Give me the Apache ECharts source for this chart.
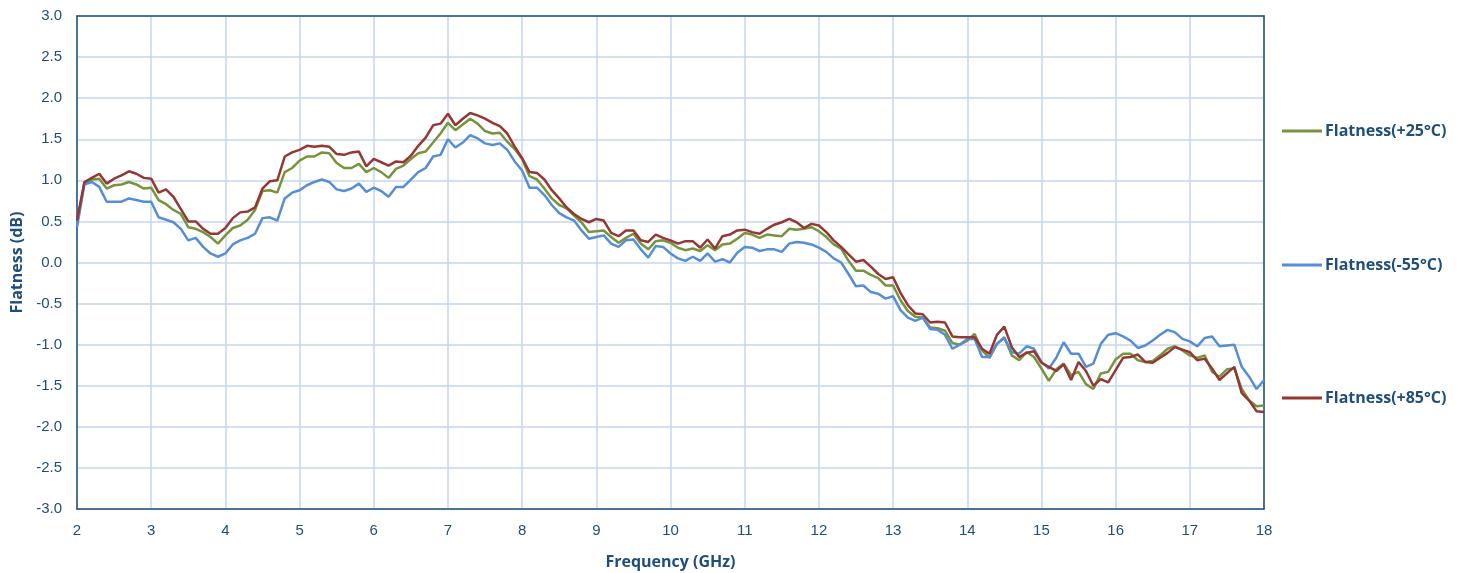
<!DOCTYPE html>
<html>
<head>
<meta charset="utf-8">
<script src="https://cdn.jsdelivr.net/npm/echarts@6/dist/echarts.min.js"></script>
<style>html,body{margin:0;padding:0;background:#fff;}#c{width:1469px;height:573px;}</style>
</head>
<body>
<div id="c"></div>
<script>
const freq = [2.0,2.1,2.2,2.3,2.4,2.5,2.6,2.7,2.8,2.9,3.0,3.1,3.2,3.3,3.4,3.5,3.6,3.7,3.8,3.9,4.0,4.1,4.2,4.3,4.4,4.5,4.6,4.7,4.8,4.9,5.0,5.1,5.2,5.3,5.4,5.5,5.6,5.7,5.8,5.9,6.0,6.1,6.2,6.3,6.4,6.5,6.6,6.7,6.8,6.9,7.0,7.1,7.2,7.3,7.4,7.5,7.6,7.7,7.8,7.9,8.0,8.1,8.2,8.3,8.4,8.5,8.6,8.7,8.8,8.9,9.0,9.1,9.2,9.3,9.4,9.5,9.6,9.7,9.8,9.9,10.0,10.1,10.2,10.3,10.4,10.5,10.6,10.7,10.8,10.9,11.0,11.1,11.2,11.3,11.4,11.5,11.6,11.7,11.8,11.9,12.0,12.1,12.2,12.3,12.4,12.5,12.6,12.7,12.8,12.9,13.0,13.1,13.2,13.3,13.4,13.5,13.6,13.7,13.8,13.9,14.0,14.1,14.2,14.3,14.4,14.5,14.6,14.7,14.8,14.9,15.0,15.1,15.2,15.3,15.4,15.5,15.6,15.7,15.8,15.9,16.0,16.1,16.2,16.3,16.4,16.5,16.6,16.7,16.8,16.9,17.0,17.1,17.2,17.3,17.4,17.5,17.6,17.7,17.8,17.9,18.0];

const flat25 = [0.48,0.97,1.01,1.02,0.90,0.94,0.95,0.98,0.95,0.90,0.91,0.76,0.71,0.64,0.59,0.43,0.41,0.37,0.31,0.23,0.33,0.42,0.45,0.52,0.64,0.87,0.88,0.85,1.10,1.15,1.24,1.29,1.29,1.34,1.33,1.21,1.15,1.15,1.20,1.10,1.15,1.10,1.03,1.14,1.18,1.26,1.33,1.35,1.46,1.57,1.70,1.61,1.68,1.75,1.69,1.60,1.57,1.58,1.47,1.38,1.26,1.05,1.01,0.90,0.78,0.70,0.66,0.57,0.49,0.37,0.38,0.39,0.31,0.24,0.30,0.35,0.23,0.16,0.26,0.27,0.24,0.18,0.15,0.17,0.14,0.21,0.15,0.22,0.23,0.29,0.36,0.34,0.30,0.34,0.33,0.32,0.41,0.40,0.41,0.43,0.38,0.31,0.22,0.17,0.02,-0.10,-0.10,-0.15,-0.19,-0.28,-0.28,-0.46,-0.59,-0.66,-0.67,-0.79,-0.80,-0.83,-0.98,-1.00,-0.95,-0.87,-1.07,-1.16,-0.99,-0.91,-1.13,-1.19,-1.09,-1.15,-1.29,-1.44,-1.30,-1.23,-1.37,-1.33,-1.48,-1.54,-1.35,-1.33,-1.18,-1.11,-1.11,-1.19,-1.21,-1.20,-1.13,-1.05,-1.02,-1.07,-1.13,-1.16,-1.13,-1.33,-1.39,-1.30,-1.29,-1.54,-1.68,-1.75,-1.74];

const flatM55 = [0.43,0.95,0.98,0.92,0.74,0.74,0.74,0.78,0.76,0.74,0.74,0.55,0.52,0.49,0.41,0.27,0.30,0.19,0.11,0.07,0.11,0.22,0.27,0.30,0.35,0.54,0.55,0.51,0.78,0.85,0.88,0.94,0.98,1.01,0.98,0.89,0.87,0.90,0.96,0.86,0.91,0.87,0.80,0.92,0.92,1.01,1.10,1.15,1.29,1.31,1.50,1.40,1.46,1.55,1.51,1.45,1.43,1.45,1.37,1.23,1.12,0.91,0.91,0.82,0.70,0.60,0.55,0.51,0.39,0.29,0.31,0.33,0.23,0.19,0.27,0.28,0.16,0.06,0.20,0.19,0.11,0.05,0.02,0.07,0.02,0.11,0.01,0.04,0.00,0.12,0.19,0.18,0.14,0.16,0.16,0.13,0.23,0.25,0.24,0.22,0.18,0.13,0.05,0.00,-0.14,-0.29,-0.28,-0.36,-0.38,-0.44,-0.41,-0.58,-0.67,-0.71,-0.67,-0.81,-0.82,-0.88,-1.05,-1.00,-0.93,-0.93,-1.15,-1.15,-0.99,-0.92,-1.09,-1.11,-1.02,-1.05,-1.21,-1.29,-1.16,-0.97,-1.11,-1.11,-1.27,-1.23,-0.99,-0.88,-0.86,-0.90,-0.95,-1.04,-1.01,-0.95,-0.88,-0.82,-0.85,-0.93,-0.96,-1.02,-0.92,-0.90,-1.02,-1.01,-1.00,-1.27,-1.39,-1.54,-1.43];

const flat85 = [0.51,0.98,1.03,1.08,0.96,1.02,1.06,1.11,1.08,1.03,1.02,0.85,0.89,0.80,0.65,0.50,0.50,0.41,0.35,0.35,0.42,0.54,0.61,0.62,0.67,0.90,0.99,1.00,1.29,1.34,1.37,1.42,1.41,1.42,1.41,1.32,1.31,1.34,1.35,1.17,1.26,1.22,1.18,1.23,1.22,1.30,1.42,1.52,1.67,1.69,1.81,1.67,1.75,1.82,1.79,1.75,1.70,1.66,1.57,1.41,1.27,1.10,1.09,1.01,0.88,0.78,0.67,0.59,0.53,0.49,0.53,0.51,0.36,0.32,0.39,0.39,0.27,0.25,0.34,0.30,0.27,0.23,0.26,0.26,0.18,0.28,0.17,0.32,0.34,0.39,0.40,0.37,0.35,0.41,0.46,0.49,0.53,0.49,0.42,0.47,0.45,0.37,0.27,0.19,0.10,0.01,0.03,-0.05,-0.14,-0.20,-0.18,-0.37,-0.52,-0.62,-0.63,-0.73,-0.72,-0.73,-0.90,-0.91,-0.91,-0.91,-1.05,-1.11,-0.88,-0.78,-1.03,-1.15,-1.10,-1.08,-1.22,-1.27,-1.32,-1.24,-1.43,-1.21,-1.32,-1.50,-1.42,-1.46,-1.31,-1.16,-1.15,-1.12,-1.21,-1.22,-1.16,-1.10,-1.03,-1.06,-1.09,-1.19,-1.17,-1.29,-1.43,-1.35,-1.27,-1.59,-1.68,-1.81,-1.82];

const seriesNames = ['Flatness(+25°C)', 'Flatness(-55°C)', 'Flatness(+85°C)'];
const seriesColors = ['#77933C', '#558ED5', '#953735'];
const seriesValues = [flat25, flatM55, flat85];

const dark = '#1F4E79';
const grid = '#C6D6EC';
const nameFont = {color: dark, fontFamily: 'Open Sans', fontWeight: 'bold', fontSize: 16};
const borderAxis = {show: true, onZero: false, lineStyle: {color: dark, width: 1.5}};

const chart = echarts.init(document.getElementById('c'), null, {renderer: 'canvas'});
const legendTops = [118, 252, 385];
chart.setOption({
  animation: false,
  backgroundColor: '#fff',
  grid: {left: 77, right: 205, top: 16, bottom: 64, containLabel: false, outerBoundsMode: 'none'},
  legend: seriesNames.map((n, i) => ({
    data: [n], left: 1277, top: legendTops[i], orient: 'vertical',
    itemWidth: 40, itemHeight: 3, icon: 'rect',
    textStyle: Object.assign({}, nameFont, {padding: [0, 0, 0, -2]})
  })),
  xAxis: [{
    type: 'value', min: 2, max: 18, interval: 1, position: 'bottom',
    name: 'Frequency (GHz)', nameLocation: 'middle', nameGap: 45,
    nameTextStyle: nameFont,
    axisLine: borderAxis,
    axisTick: {show: false},
    axisLabel: {color: dark, fontFamily: 'Liberation Sans', fontSize: 15, margin: 14},
    splitLine: {show: true, lineStyle: {color: grid, width: 1.5}}
  }, {
    type: 'value', min: 2, max: 18, interval: 1, position: 'top',
    axisLine: borderAxis, axisTick: {show: false}, axisLabel: {show: false}, splitLine: {show: false}
  }],
  yAxis: [{
    type: 'value', min: -3, max: 3, interval: 0.5, position: 'left',
    name: 'Flatness (dB)', nameLocation: 'middle', nameGap: 52,
    nameTextStyle: nameFont,
    axisLine: borderAxis,
    axisTick: {show: false},
    axisLabel: {color: dark, fontFamily: 'Liberation Sans', fontSize: 15, margin: 15, formatter: v => v.toFixed(1)},
    splitLine: {show: true, lineStyle: {color: grid, width: 1.5}}
  }, {
    type: 'value', min: -3, max: 3, interval: 0.5, position: 'right',
    axisLine: borderAxis, axisTick: {show: false}, axisLabel: {show: false}, splitLine: {show: false}
  }],
  series: seriesNames.map((n, i) => ({
    name: n, type: 'line', symbol: 'none', smooth: false,
    xAxisIndex: 0, yAxisIndex: 0,
    data: freq.map((f, k) => [f, seriesValues[i][k]]),
    itemStyle: {color: seriesColors[i]},
    lineStyle: {color: seriesColors[i], width: 2.5},
    z: 2 + i
  }))
});
</script>
</body>
</html>
